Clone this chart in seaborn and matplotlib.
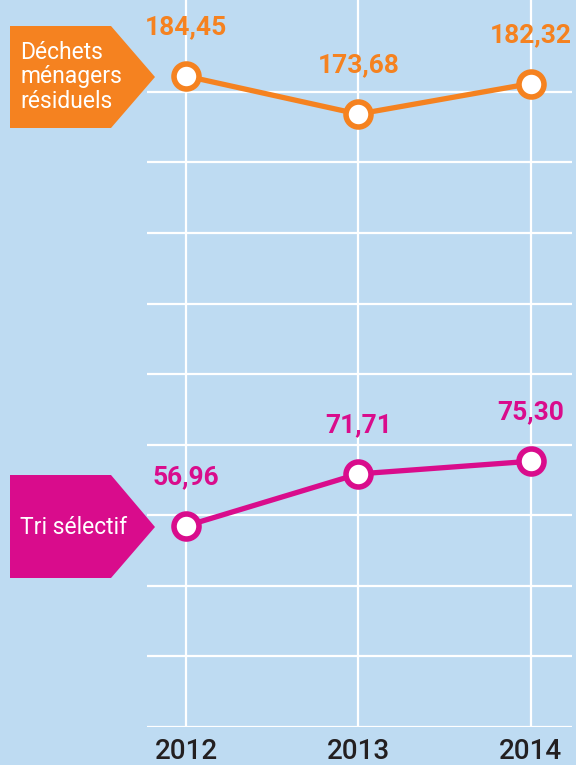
import pandas as pd
import numpy as np
import matplotlib
matplotlib.use("Agg")
import matplotlib.pyplot as plt
from matplotlib.patches import Polygon
import seaborn as sns

# données
years = ["2012", "2013", "2014"]
dechets = [184.45, 173.68, 182.32]
tri = [56.96, 71.71, 75.30]
labels_dechets = ["184,45", "173,68", "182,32"]
labels_tri = ["56,96", "71,71", "75,30"]
series_names = ["Déchets\nménagers\nrésiduels", "Tri sélectif"]

BG = "#BEDBF2"
ORANGE = "#F58220"
MAGENTA = "#D90C8C"

sns.set_theme(style="white")
plt.rcParams['font.family'] = ['Roboto', 'DejaVu Sans']

df = pd.DataFrame({
    "annee": list(range(len(years))) * 2,
    "valeur": dechets + tri,
    "serie": ["dechets"] * 3 + ["tri"] * 3,
})

W, H = 576, 765
fig = plt.figure(figsize=(W / 100, H / 100), dpi=100, facecolor=BG)
ax = fig.add_axes([147 / W, 38 / H, (572 - 147) / W, (H - 38) / H])
ax.set_facecolor(BG)

# grille blanche
for v in range(0, 200, 20):
    ax.axhline(v, color="white", lw=1.6, zorder=1)
for i in range(len(years)):
    ax.axvline(i, color="white", lw=1.6, zorder=1)

sns.lineplot(data=df, x="annee", y="valeur", hue="serie",
             palette={"dechets": ORANGE, "tri": MAGENTA},
             marker="o", markersize=18, markerfacecolor="white",
             markeredgewidth=4, linewidth=3.8, legend=False, ax=ax, zorder=3)
for line, col in zip(ax.get_lines()[-2:], [ORANGE, MAGENTA]):
    line.set_markeredgecolor(col)

for vals, labs, col in [(dechets, labels_dechets, ORANGE), (tri, labels_tri, MAGENTA)]:
    for i, (v, t) in enumerate(zip(vals, labs)):
        ax.annotate(t, (i, v), xytext=(0, 35), textcoords="offset points",
                    ha="center", va="center", color=col, fontsize=19,
                    fontweight="bold", zorder=4, annotation_clip=False)

ax.set_xlim(-0.226, 2.24)
ax.set_ylim(0, 206)
ax.set_xticks(range(len(years)))
ax.set_xticklabels(years, fontsize=20, color="#231F20", fontweight="medium")
ax.tick_params(axis="x", length=0, pad=8)
ax.set_yticks([])
ax.set_xlabel("")
ax.set_ylabel("")
for s in ax.spines.values():
    s.set_visible(False)

# étiquettes en forme de flèche
def fleche(top, bottom, tip_y, col, text):
    pts = [(10, top), (111, top), (155, tip_y), (111, bottom), (10, bottom)]
    pts = [(x / W, 1 - y / H) for x, y in pts]
    fig.patches.append(Polygon(pts, closed=True, facecolor=col, edgecolor="none",
                               transform=fig.transFigure, figure=fig))
    fig.text(20 / W, 1 - tip_y / H, text, color="white", fontsize=16.5,
             ha="left", va="center", linespacing=1.1)

fleche(26, 128, 77, ORANGE, series_names[0])
fleche(475, 578, 527, MAGENTA, series_names[1])

fig.savefig("out.png", dpi=100, facecolor=BG)
